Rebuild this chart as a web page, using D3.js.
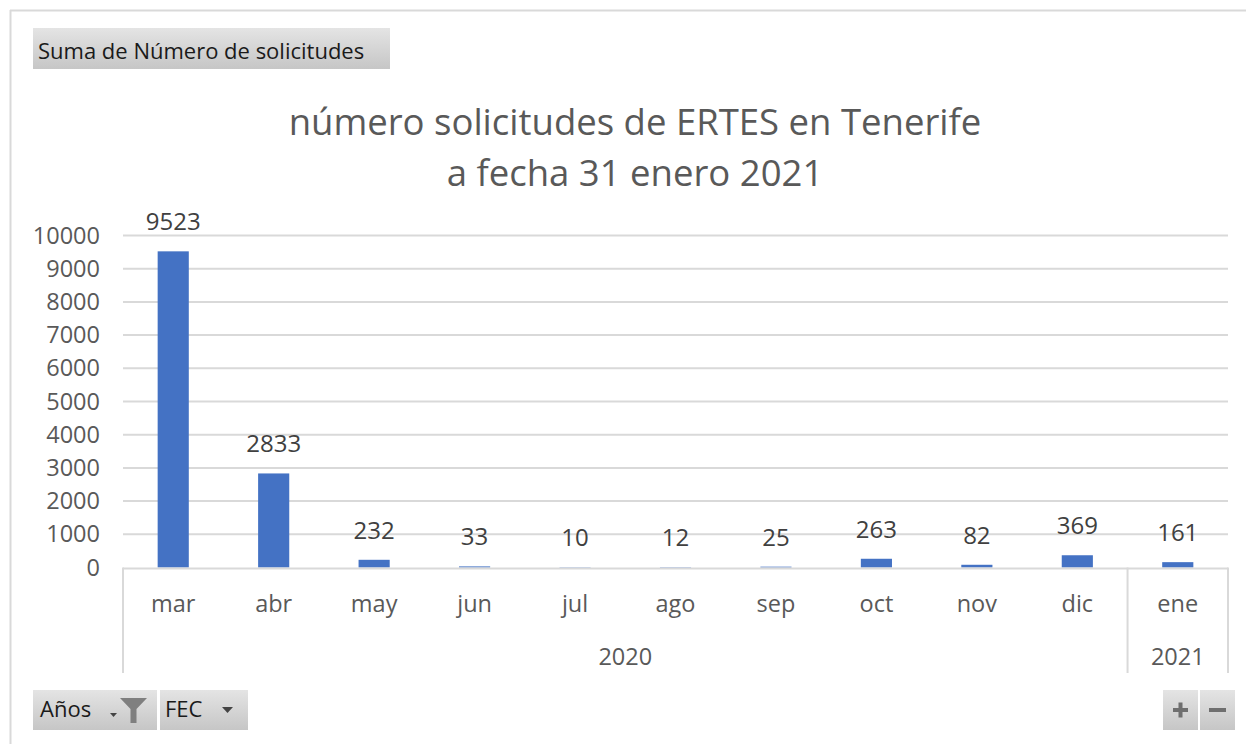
<!DOCTYPE html>
<html>
<head>
<meta charset="utf-8">
<script src="https://cdn.jsdelivr.net/npm/d3@7"></script>
<style>
  html, body { margin: 0; padding: 0; background: #fff; }
  svg { display: block; }
</style>
</head>
<body>
<svg id="chart" width="1246" height="744"></svg>
<script>
// values
const months = ["mar", "abr", "may", "jun", "jul", "ago", "sep", "oct", "nov", "dic", "ene"];
const monthYears = ["2020", "2020", "2020", "2020", "2020", "2020", "2020", "2020", "2020", "2020", "2021"];
const solicitudes = [9523, 2833, 232, 33, 10, 12, 25, 263, 82, 369, 161];
const yTicks = [0, 1000, 2000, 3000, 4000, 5000, 6000, 7000, 8000, 9000, 10000];
const titleLines = ["número solicitudes de ERTES en Tenerife", "a fecha 31 enero 2021"];

const FONT = "'Open Sans', 'Noto Sans', sans-serif";
const svg = d3.select("#chart");

const defs = svg.append("defs");
const grad = defs.append("linearGradient").attr("id", "btn").attr("x1", 0).attr("y1", 0).attr("x2", 0).attr("y2", 1);
grad.append("stop").attr("offset", "0%").attr("stop-color", "#e4e4e4");
grad.append("stop").attr("offset", "100%").attr("stop-color", "#c6c6c6");

// outer frame
svg.append("line").attr("x1", 10).attr("x2", 1246).attr("y1", 10.5).attr("y2", 10.5)
	.attr("stroke", "#d9d9d9").attr("stroke-width", 2);
svg.append("line").attr("x1", 10.5).attr("x2", 10.5).attr("y1", 10).attr("y2", 744)
	.attr("stroke", "#d9d9d9").attr("stroke-width", 2);

const plotLeft = 123, plotRight = 1228, plotTop = 235.5, plotBottom = 567.5;

const x = d3.scaleBand().domain(months).range([plotLeft, plotRight]).paddingInner(0.69).paddingOuter(0.345);
const y = d3.scaleLinear().domain([0, 10000]).range([plotBottom, plotTop]);

// gridlines
svg.append("g")
	.selectAll("line")
	.data(yTicks.filter(d => d > 0))
	.join("line")
	.attr("x1", plotLeft).attr("x2", plotRight)
	.attr("y1", d => y(d)).attr("y2", d => y(d))
	.attr("stroke", "#d9d9d9").attr("stroke-width", 2);

// y axis labels
const yAxis = svg.append("g")
	.attr("transform", `translate(${plotLeft},0)`)
	.call(d3.axisLeft(y).tickValues(yTicks).tickSize(0).tickPadding(23).tickFormat(d3.format("d")));
yAxis.select(".domain").remove();
yAxis.selectAll("text")
	.attr("font-family", FONT).attr("font-size", 23.5).attr("fill", "#595959");

// bars
svg.append("g")
	.selectAll("rect")
	.data(solicitudes)
	.join("rect")
	.attr("x", (d, i) => x(months[i]))
	.attr("width", x.bandwidth())
	.attr("y", d => y(d))
	.attr("height", d => y(0) - y(d))
	.attr("fill", "#4472c4");

// data labels
svg.append("g")
	.selectAll("text")
	.data(solicitudes)
	.join("text")
	.attr("x", (d, i) => x(months[i]) + x.bandwidth() / 2)
	.attr("y", d => y(d) - 21)
	.attr("text-anchor", "middle")
	.attr("font-family", FONT).attr("font-size", 24).attr("fill", "#404040")
	.text(d => d);

// category axis
const axisColor = "#d9d9d9";
svg.append("line").attr("x1", plotLeft).attr("x2", plotRight).attr("y1", plotBottom + 1).attr("y2", plotBottom + 1)
	.attr("stroke", axisColor).attr("stroke-width", 2);

const years = Array.from(d3.group(months.map((m, i) => ({m, yr: monthYears[i]})), d => d.yr),
	([yr, items]) => ({yr, first: items[0].m, last: items[items.length - 1].m}));
const step = x.step();
const groupEdges = [plotLeft];
years.forEach(g => groupEdges.push(x(g.last) + x.bandwidth() / 2 + step / 2));
groupEdges[groupEdges.length - 1] = plotRight;

svg.append("g")
	.selectAll("line")
	.data(groupEdges)
	.join("line")
	.attr("x1", d => d).attr("x2", d => d)
	.attr("y1", plotBottom).attr("y2", 673)
	.attr("stroke", axisColor).attr("stroke-width", 2);

svg.append("g")
	.selectAll("text")
	.data(months)
	.join("text")
	.attr("x", d => x(d) + x.bandwidth() / 2)
	.attr("y", 612)
	.attr("text-anchor", "middle")
	.attr("font-family", FONT).attr("font-size", 23.5).attr("fill", "#595959")
	.text(d => d);

svg.append("g")
	.selectAll("text")
	.data(years)
	.join("text")
	.attr("x", (d, i) => (groupEdges[i] + groupEdges[i + 1]) / 2)
	.attr("y", 665)
	.attr("text-anchor", "middle")
	.attr("font-family", FONT).attr("font-size", 23.5).attr("fill", "#595959")
	.text(d => d.yr);

// title
svg.append("g")
	.selectAll("text")
	.data(titleLines)
	.join("text")
	.attr("x", 635)
	.attr("y", (d, i) => 135 + i * 51)
	.attr("text-anchor", "middle")
	.attr("font-family", FONT).attr("font-size", 36.5).attr("fill", "#595959")
	.text(d => d);

// pivot field buttons
function button(x0, y0, w, h) {
	const g = svg.append("g").attr("transform", `translate(${x0},${y0})`);
	g.append("rect").attr("width", w).attr("height", h).attr("fill", "url(#btn)");
	return g;
}

const sumBtn = button(33, 28, 357, 41);
sumBtn.append("text").attr("x", 5).attr("y", 31)
	.attr("font-family", FONT).attr("font-size", 22).attr("fill", "#1a1a1a")
	.text("Suma de Número de solicitudes");

const aniosBtn = button(33, 690, 124, 40);
aniosBtn.append("text").attr("x", 7).attr("y", 27)
	.attr("font-family", FONT).attr("font-size", 22).attr("fill", "#1a1a1a").text("Años");
aniosBtn.append("path").attr("d", "M77,23 h7 l-3.5,4 z").attr("fill", "#444");
aniosBtn.append("path").attr("d", "M87,8 h27 l-10.5,11 v14 h-6 v-14 z").attr("fill", "#7f7f7f");

const fecBtn = button(160, 690, 88, 40);
fecBtn.append("text").attr("x", 5).attr("y", 27)
	.attr("font-family", FONT).attr("font-size", 22).attr("fill", "#1a1a1a").text("FEC");
fecBtn.append("path").attr("d", "M62,17 h11 l-5.5,6 z").attr("fill", "#444");

const plusBtn = button(1163, 690, 35, 40);
plusBtn.append("path").attr("d", "M10,20 h15 M17.5,12.5 v15").attr("stroke", "#6f6f6f").attr("stroke-width", 4);
const minusBtn = button(1200, 690, 35, 40);
minusBtn.append("path").attr("d", "M9,20 h17").attr("stroke", "#6f6f6f").attr("stroke-width", 4);
</script>
</body>
</html>
